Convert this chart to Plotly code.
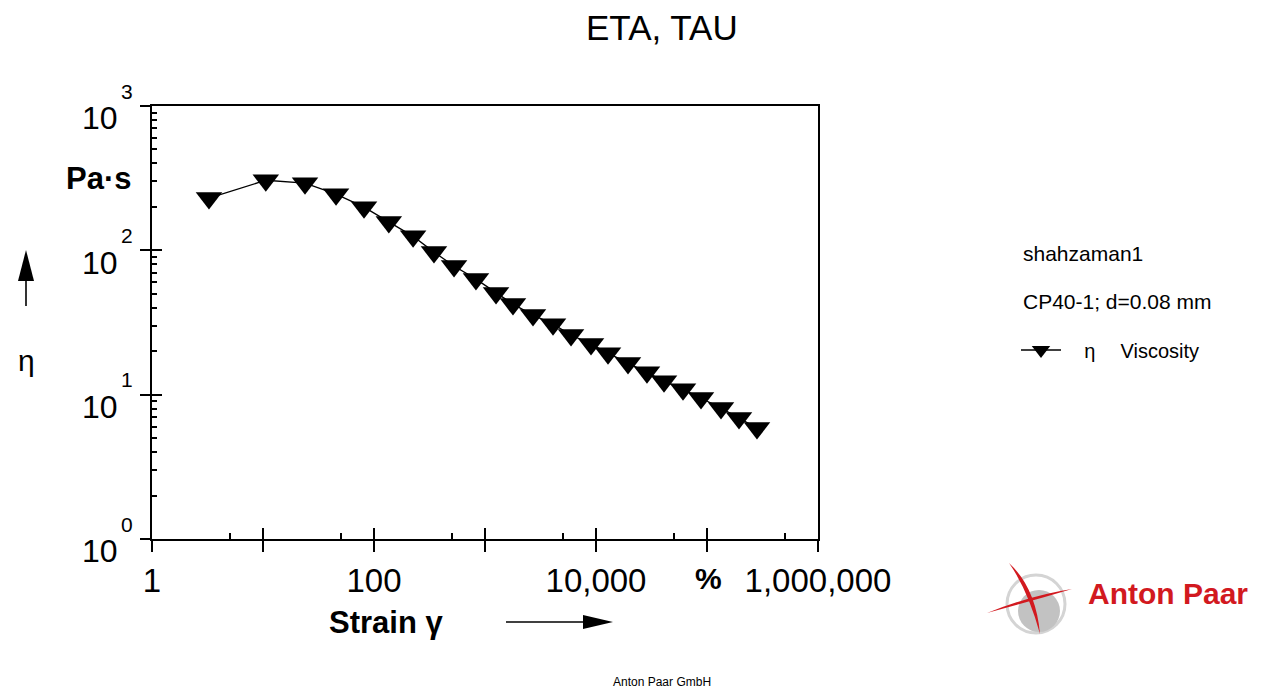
import plotly.graph_objects as go

# Strain sweep of a sample: shear strain gamma (%) vs. viscosity eta (Pa·s)
strain_pct = [3.26, 10.6, 23.9, 45.5, 81.3, 136, 225, 347, 526, 829, 1257, 1787,
              2706, 4100, 5957, 9016, 12830, 19420, 28790, 41000, 60800, 88300,
              133700, 194200, 282000]
viscosity_pas = [230, 306, 292, 245, 199, 157, 125, 97.2, 77.8, 63.2, 50.6, 42.4,
                 35.6, 30.8, 25.9, 22.4, 19.4, 16.6, 14.3, 12.4, 10.9, 9.47,
                 8.08, 6.89, 5.87]

x_tick_vals = [1, 10, 100, 1e3, 1e4, 1e5, 1e6]
x_tick_text = ["1", "", "100", "", "10,000", "", "1,000,000"]
x_minor_vals = [5, 50, 500, 5e3, 5e4, 5e5]

y_tick_vals = [1, 10, 100, 1000]
y_tick_text = ["10", "10", "10", "10"]
y_tick_exponents = [0, 1, 2, 3]
y_minor_vals = [m * 10 ** d for d in range(3) for m in range(2, 10)]

FONT = "Arial, Liberation Sans, sans-serif"
RED = "#d2191f"

# page geometry of the plotting frame (pixels)
W, H = 1265, 688
L, R, T, B = 152, 818, 106, 539


def px(x):
    return (x - L) / (R - L)


def py(y):
    return (B - y) / (B - T)


fig = go.Figure()

fig.add_trace(go.Scatter(
    x=strain_pct, y=viscosity_pas,
    mode="lines+markers",
    name="\u2002\u2005\u2006η\u2003\u2005Viscosity",
    line=dict(color="black", width=1.3),
    marker=dict(symbol="triangle-down", size=23, color="black",
                line=dict(width=0)),
    hoverinfo="x+y",
))

# empty trace that carries the overlay axes (inner half of the major ticks)
fig.add_trace(go.Scatter(x=[], y=[], xaxis="x2", yaxis="y2",
                         showlegend=False, hoverinfo="skip"))

axis_common = dict(type="log", showgrid=False, zeroline=False)

fig.update_layout(
    width=W, height=H,
    margin=dict(l=L, r=W - R, t=T, b=H - B, pad=0),
    paper_bgcolor="white", plot_bgcolor="white",
    font=dict(family=FONT, color="black"),
    showlegend=True,
    legend=dict(x=px(1016), y=py(350), xanchor="left", yanchor="middle",
                bgcolor="rgba(0,0,0,0)", borderwidth=0,
                font=dict(size=20, family=FONT, color="black"),
                itemwidth=40),
    xaxis=dict(**axis_common, range=[0, 6],
               showline=True, linecolor="black", linewidth=2, mirror=True,
               ticks="outside", ticklen=11, tickwidth=1.6, tickcolor="black",
               tickmode="array", tickvals=x_tick_vals, ticktext=x_tick_text,
               tickfont=dict(size=33, family=FONT, color="black"),
               ticklabelstandoff=0,
               minor=dict(tickmode="array", tickvals=x_minor_vals,
                          ticks="inside", ticklen=6, tickwidth=1.6,
                          tickcolor="black", showgrid=False)),
    yaxis=dict(**axis_common, range=[0, 3],
               showline=True, linecolor="black", linewidth=2, mirror=True,
               ticks="outside", ticklen=10, tickwidth=1.6, tickcolor="black",
               tickmode="array", tickvals=y_tick_vals, ticktext=y_tick_text,
               tickfont=dict(size=32, family=FONT, color="black"),
               ticklabelshift=12, ticklabelstandoff=16,
               minor=dict(tickmode="array", tickvals=y_minor_vals,
                          ticks="inside", ticklen=5, tickwidth=1.6,
                          tickcolor="black", showgrid=False)),
    xaxis2=dict(**axis_common, range=[0, 6], overlaying="x", anchor="y2",
                side="bottom", showline=False, showticklabels=False,
                ticks="inside", ticklen=11, tickwidth=1.6, tickcolor="black",
                tickmode="array", tickvals=x_tick_vals),
    yaxis2=dict(**axis_common, range=[0, 3], overlaying="y", anchor="x2",
                side="left", showline=False, showticklabels=False,
                ticks="inside", ticklen=10, tickwidth=1.6, tickcolor="black",
                tickmode="array", tickvals=y_tick_vals),
)

annotations = []

# exponents of the y tick labels (10^n); y is given in log10 units
for exp in y_tick_exponents:
    annotations.append(dict(
        text=str(exp), xref="paper", yref="y", x=0, y=exp,
        xshift=-25, yshift=15, showarrow=False,
        font=dict(size=21, family=FONT, color="black"),
        xanchor="center", yanchor="middle"))


def label(text, x, y, size, bold=False, color="black", xanchor="center"):
    if bold:
        text = "<b>" + text + "</b>"
    annotations.append(dict(
        text=text, xref="paper", yref="paper", x=px(x), y=py(y),
        showarrow=False, xanchor=xanchor, yanchor="middle",
        font=dict(size=size, family=FONT, color=color)))


label("ETA, TAU", 662, 27, 35)
label("Pa·s", 98, 178, 31, bold=True)
label("η", 26, 360, 30)
label("Strain γ", 386, 622, 31, bold=True)
label("%", 708, 578, 30, bold=True)
label("shahzaman1", 1021, 253, 21, xanchor="left")
label("CP40-1; d=0.08 mm", 1021, 301, 21, xanchor="left")
label("Anton Paar", 1086, 593, 30, bold=True, color=RED, xanchor="left")
label("Anton Paar GmbH", 662, 682, 12)

fig.update_layout(annotations=annotations)

shapes = []


def pix_path(cx, cy, path, fill, line_color=None, line_width=0):
    shapes.append(dict(
        type="path", xref="paper", yref="paper",
        xsizemode="pixel", ysizemode="pixel",
        xanchor=px(cx), yanchor=py(cy), path=path,
        fillcolor=fill, line=dict(color=line_color or fill, width=line_width),
        layer="above"))


# axis arrows
shapes.append(dict(type="line", xref="paper", yref="paper",
                   x0=px(26), x1=px(26), y0=py(306), y1=py(278),
                   line=dict(color="black", width=1.6)))
pix_path(26, 250, "M0,0 L-8,-31 L8,-31 Z", "black")
shapes.append(dict(type="line", xref="paper", yref="paper",
                   x0=px(506), x1=px(585), y0=py(622), y1=py(622),
                   line=dict(color="black", width=1.6)))
pix_path(613, 622, "M0,0 L-30,7 L-30,-7 Z", "black")

# company logo
shapes.append(dict(type="circle", xref="paper", yref="paper",
                   xsizemode="pixel", ysizemode="pixel",
                   xanchor=px(1036), yanchor=py(604),
                   x0=-29, x1=29, y0=-29, y1=29,
                   line=dict(color="#d4d4d4", width=3), layer="above"))
shapes.append(dict(type="circle", xref="paper", yref="paper",
                   xsizemode="pixel", ysizemode="pixel",
                   xanchor=px(1039), yanchor=py(611),
                   x0=-21, x1=21, y0=-21, y1=21,
                   fillcolor="#c2c2c2", line=dict(width=0), layer="above"))
pix_path(1037, 608, "M-50,-5 Q-5,13 35,19 Q-5,7 -50,-5 Z", RED)
pix_path(1037, 608, "M-28,45 Q-1,20 3,-26 Q-9,18 -28,45 Z", RED)

fig.update_layout(shapes=shapes)

fig.write_html("out.html")
